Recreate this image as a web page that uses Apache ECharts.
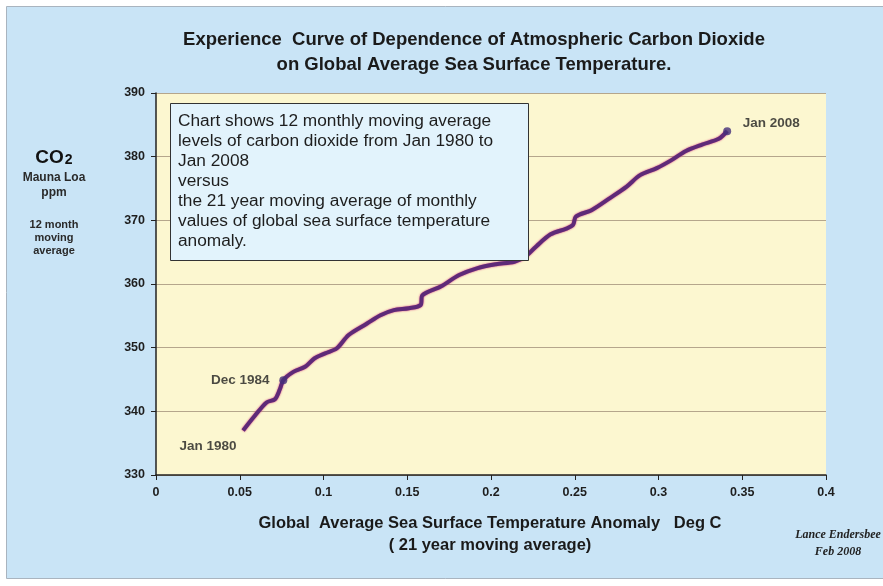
<!DOCTYPE html>
<html>
<head>
<meta charset="utf-8">
<script src="https://cdn.jsdelivr.net/npm/echarts@6/dist/echarts.min.js"></script>
<style>
html, body { margin: 0; padding: 0; background: #fff; }
#main { width: 883px; height: 586px; }
</style>
</head>
<body>
<div id="main"></div>
<script>
// SST anomaly (21 yr moving avg) vs CO2 (12 month moving avg)
var sst = [0.052, 0.059, 0.066, 0.071, 0.074, 0.076, 0.082, 0.089, 0.0945, 0.101,
           0.108, 0.115, 0.126, 0.134, 0.142, 0.151, 0.158, 0.159, 0.170, 0.181,
           0.192, 0.203, 0.214, 0.2205, 0.227, 0.2356, 0.245, 0.249, 0.2507, 0.260,
           0.271, 0.281, 0.289, 0.299, 0.308, 0.3164, 0.326, 0.336, 0.341];
var co2 = [337.0, 339.3, 341.4, 341.9, 343.5, 344.9, 346.2, 347.0, 348.3, 349.1,
           349.9, 352.0, 353.8, 355.1, 355.9, 356.2, 356.7, 358.2, 359.6, 361.4,
           362.5, 363.1, 363.5, 364.3, 365.9, 367.8, 368.7, 369.3, 370.6, 371.6,
           373.5, 375.3, 377.1, 378.2, 379.5, 380.9, 381.9, 382.8, 384.0];
var eventNames = ['Jan 1980', 'Dec 1984', 'Jan 2008'];
var eventIdx = [0, 5, 38];

var noteLines = [
  'Chart shows 12 monthly moving average',
  'levels of carbon dioxide from Jan 1980 to',
  'Jan 2008',
  'versus',
  'the 21 year moving average of monthly',
  'values of global sea surface temperature',
  'anomaly.'
];

var myChart = echarts.init(document.getElementById('main'));

var lineData = sst.map(function (x, i) { return [x, co2[i]]; });

var labelOffsets = [[-35, 16], [-43, 0], [44, -8]];
var eventData = eventIdx.map(function (idx, k) {
  return {
    value: [sst[idx], co2[idx]],
    name: eventNames[k],
    symbolSize: k === 0 ? 0 : 8,
    label: { offset: labelOffsets[k] }
  };
});

var font = 'Liberation Sans, Arial, sans-serif';

function txt(x, y, s, f, extra) {
  var o = {
    type: 'text', x: x, y: y, z: 50,
    style: { text: s, font: f, fill: '#1a1a1a', align: 'center', verticalAlign: 'middle' }
  };
  if (extra) for (var k in extra) o.style[k] = extra[k];
  return o;
}

option = {
  animation: false,
  graphic: [
    {
      type: 'rect', z: -100,
      shape: { x: 6.5, y: 6.5, width: 880, height: 572 },
      style: { fill: '#c9e4f6', stroke: '#a9b4bf', lineWidth: 1 }
    },
    txt(474, 40, 'Experience  Curve of Dependence of Atmospheric Carbon Dioxide', 'bold 18.5px ' + font),
    txt(474, 65, 'on Global Average Sea Surface Temperature.', 'bold 18.5px ' + font),
    {
      type: 'text', x: 54, y: 158, z: 50,
      style: {
        text: '{a|CO}{b|2}', align: 'center', verticalAlign: 'middle',
        rich: {
          a: { font: 'bold 19px ' + font, fill: '#111' },
          b: { font: 'bold 14px ' + font, fill: '#111', padding: [4, 0, 0, 1] }
        }
      }
    },
    txt(54, 178, 'Mauna Loa', 'bold 12px ' + font, { fill: '#2a2a2a' }),
    txt(54, 193, 'ppm', 'bold 12px ' + font, { fill: '#2a2a2a' }),
    txt(54, 225, '12 month', 'bold 11px ' + font, { fill: '#2a2a2a' }),
    txt(54, 238, 'moving', 'bold 11px ' + font, { fill: '#2a2a2a' }),
    txt(54, 251, 'average', 'bold 11px ' + font, { fill: '#2a2a2a' }),
    {
      type: 'rect', z: 100,
      shape: { x: 170.5, y: 103.5, width: 358, height: 157 },
      style: { fill: '#e2f3fc', stroke: '#333', lineWidth: 1 }
    },
    {
      type: 'text', x: 178, y: 112, z: 101, scaleX: 1.08,
      style: {
        text: noteLines.join('\n'),
        font: '16px ' + font, fill: '#1e1e1e', lineHeight: 20
      }
    },
    txt(490, 523, 'Global  Average Sea Surface Temperature Anomaly   Deg C', 'bold 16.5px ' + font),
    txt(490, 545, '( 21 year moving average)', 'bold 16.5px ' + font),
    txt(838, 535, 'Lance Endersbee', 'italic bold 12px "Liberation Serif", "DejaVu Serif", serif', { fill: '#222' }),
    txt(838, 552, 'Feb 2008', 'italic bold 12px "Liberation Serif", "DejaVu Serif", serif', { fill: '#222' })
  ],
  grid: {
    left: 156, right: 57, top: 93, bottom: 111,
    show: true, backgroundColor: '#fcf7d0', borderWidth: 0
  },
  xAxis: {
    type: 'value', min: 0, max: 0.4, interval: 0.05,
    axisLine: { lineStyle: { color: '#222', width: 1.5 } },
    axisTick: { show: true, length: 5, lineStyle: { color: '#222' } },
    splitLine: { show: false },
    axisLabel: {
      margin: 11, color: '#1e1e1e', fontWeight: 'bold', fontSize: 12.5, fontFamily: font,
      formatter: function (v) { return String(+v.toFixed(2)); }
    }
  },
  yAxis: {
    type: 'value', min: 330, max: 390, interval: 10,
    axisLine: { show: true, lineStyle: { color: '#222', width: 1.5 } },
    axisTick: { show: true, length: 5, lineStyle: { color: '#222' } },
    splitLine: { show: true, lineStyle: { color: '#b5a68c', width: 1 } },
    axisLabel: { margin: 11, color: '#1e1e1e', fontWeight: 'bold', fontSize: 12.5, fontFamily: font }
  },
  series: [
    {
      type: 'line',
      data: lineData,
      showSymbol: false,
      smooth: 0.3,
      lineStyle: { color: '#5e2a78', width: 4, shadowColor: '#d0307a', shadowBlur: 2 },
      z: 3
    },
    {
      type: 'scatter',
      data: eventData,
      itemStyle: { color: '#43307a' },
      label: {
        show: true, position: 'inside', formatter: '{b}',
        color: '#1e1e1e', fontWeight: 'bold', fontSize: 13.5, fontFamily: font
      },
      z: 4
    }
  ]
};
myChart.setOption(option);
</script>
</body>
</html>
